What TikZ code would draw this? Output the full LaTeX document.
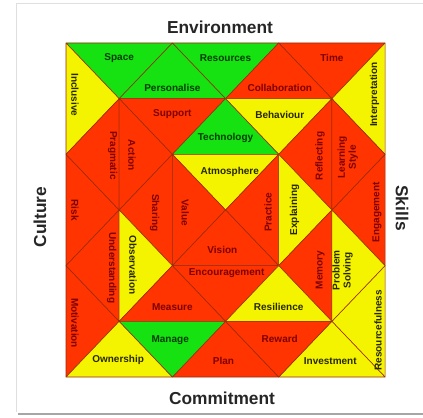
\documentclass[tikz,border=0pt]{standalone}
\usepackage{fontspec}
\setmainfont{Liberation Sans}
\definecolor{tgreen}{RGB}{22,226,18}
\definecolor{tred}{RGB}{255,52,0}
\definecolor{tyellow}{RGB}{244,244,0}
\definecolor{tedge}{RGB}{150,42,12}
\definecolor{rtext}{RGB}{125,0,0}
\definecolor{gtext}{RGB}{0,60,0}
\definecolor{ytext}{RGB}{40,40,0}
\begin{document}
\begin{tikzpicture}[x=0.75pt, y=-0.75pt,
        gtri/.style={fill=tgreen, draw=tedge, line width=0.4pt, line join=round},
        rtri/.style={fill=tred, draw=tedge, line width=0.4pt, line join=round},
        ytri/.style={fill=tyellow, draw=tedge, line width=0.4pt, line join=round},
        lbl/.style={font=\bfseries\fontsize{7.5}{8.2}\selectfont, inner sep=0pt, align=center},
        rlbl/.style={lbl, text=rtext},
        glbl/.style={lbl, text=gtext},
        ylbl/.style={lbl, text=ytext},
        heading/.style={font=\bfseries\fontsize{13}{15}\selectfont, text=black!85}]

                \useasboundingbox (0, 0) rectangle (423, 417);

                % frame of the screenshot
                \draw[gray!25] (423, 3) -- (16, 3) -- (16, 412);

                \draw[gray!70, line width=1.5pt] (18, 414) -- (423, 414);

                \begin{scope}[shift={(49.5pt, -32.25pt)}, x=39.88pt, y=-41.75pt]

                % edge triangles
                \filldraw[gtri] (0, 0) -- (2, 0) -- (1, 1) -- cycle;

                \filldraw[gtri] (2, 0) -- (4, 0) -- (3, 1) -- cycle;

                \filldraw[rtri] (4, 0) -- (6, 0) -- (5, 1) -- cycle;

                \filldraw[ytri] (0, 0) -- (1, 1) -- (0, 2) -- cycle;

                \filldraw[rtri] (0, 2) -- (1, 3) -- (0, 4) -- cycle;

                \filldraw[rtri] (0, 4) -- (1, 5) -- (0, 6) -- cycle;

                \filldraw[ytri] (6, 0) -- (5, 1) -- (6, 2) -- cycle;

                \filldraw[rtri] (6, 2) -- (5, 3) -- (6, 4) -- cycle;

                \filldraw[ytri] (6, 4) -- (5, 5) -- (6, 6) -- cycle;

                \filldraw[ytri] (0, 6) -- (1, 5) -- (2, 6) -- cycle;

                \filldraw[rtri] (2, 6) -- (3, 5) -- (4, 6) -- cycle;

                \filldraw[ytri] (4, 6) -- (5, 5) -- (6, 6) -- cycle;

                % split diamonds
                \filldraw[gtri] (1, 1) -- (2, 0) -- (3, 1) -- cycle;

                \filldraw[rtri] (1, 1) -- (3, 1) -- (2, 2) -- cycle;

                \filldraw[rtri] (3, 1) -- (4, 0) -- (5, 1) -- cycle;

                \filldraw[ytri] (3, 1) -- (5, 1) -- (4, 2) -- cycle;

                \filldraw[rtri] (1, 1) -- (0, 2) -- (1, 3) -- cycle;

                \filldraw[rtri] (1, 1) -- (2, 2) -- (1, 3) -- cycle;

                \filldraw[gtri] (2, 2) -- (3, 1) -- (4, 2) -- cycle;

                \filldraw[ytri] (2, 2) -- (4, 2) -- (3, 3) -- cycle;

                \filldraw[rtri] (5, 1) -- (4, 2) -- (5, 3) -- cycle;

                \filldraw[rtri] (5, 1) -- (6, 2) -- (5, 3) -- cycle;

                \filldraw[rtri] (2, 2) -- (1, 3) -- (2, 4) -- cycle;

                \filldraw[rtri] (2, 2) -- (3, 3) -- (2, 4) -- cycle;

                \filldraw[rtri] (4, 2) -- (3, 3) -- (4, 4) -- cycle;

                \filldraw[ytri] (4, 2) -- (5, 3) -- (4, 4) -- cycle;

                \filldraw[rtri] (1, 3) -- (0, 4) -- (1, 5) -- cycle;

                \filldraw[ytri] (1, 3) -- (2, 4) -- (1, 5) -- cycle;

                \filldraw[rtri] (2, 4) -- (3, 3) -- (4, 4) -- cycle;

                \filldraw[rtri] (2, 4) -- (4, 4) -- (3, 5) -- cycle;

                \filldraw[rtri] (5, 3) -- (4, 4) -- (5, 5) -- cycle;

                \filldraw[ytri] (5, 3) -- (6, 4) -- (5, 5) -- cycle;

                \filldraw[rtri] (1, 5) -- (2, 4) -- (3, 5) -- cycle;

                \filldraw[gtri] (1, 5) -- (3, 5) -- (2, 6) -- cycle;

                \filldraw[ytri] (3, 5) -- (4, 4) -- (5, 5) -- cycle;

                \filldraw[rtri] (3, 5) -- (5, 5) -- (4, 6) -- cycle;

                % labels
                \node[glbl] (space) at (1, 0.27) {Space};

                \node[glbl] (resources) at (3, 0.27) {Resources};

                \node[rlbl] (time) at (5, 0.27) {Time};

                \node[ylbl, rotate=-90] (inclusive) at (0.17, 0.93) {Inclusive};

                \node[glbl] (personalise) at (2, 0.8) {Personalise};

                \node[rlbl] (collaboration) at (4.02, 0.8) {Collaboration};

                \node[ylbl, rotate=90] (interpretation) at (5.8, 0.93) {Interpretation};

                \node[rlbl] (support) at (2, 1.28) {Support};

                \node[ylbl] (behaviour) at (4.02, 1.29) {Behaviour};

                \node[glbl] (technology) at (3, 1.7) {Technology};

                \node[ylbl] (atmosphere) at (3.08, 2.32) {Atmosphere};

                \node[rlbl, rotate=-90] (pragmatic) at (0.88, 2.02) {Pragmatic};

                \node[rlbl, rotate=-90] (action) at (1.24, 2.02) {Action};

                \node[rlbl, rotate=90] (reflecting) at (4.78, 2.03) {Reflecting};

                \node[rlbl, rotate=90] (learning) at (5.3, 2.05) {Learning\\Style};

                \node[rlbl, rotate=-90] (risk) at (0.17, 3) {Risk};

                \node[rlbl, rotate=-90] (sharing) at (1.67, 3.05) {Sharing};

                \node[rlbl, rotate=-90] (value) at (2.24, 3.05) {Value};

                \node[rlbl, rotate=90] (practice) at (3.8, 3.04) {Practice};

                \node[ylbl, rotate=90] (explaining) at (4.3, 3) {Explaining};

                \node[rlbl, rotate=90] (engagement) at (5.85, 3.04) {Engagement};

                \node[rlbl] (vision) at (2.94, 3.72) {Vision};

                \node[rlbl, rotate=-90] (understanding) at (0.86, 4.04) {Understanding};

                \node[ylbl, rotate=-90] (observation) at (1.26, 3.99) {Observation};

                \node[rlbl] (encouragement) at (3.02, 4.14) {Encouragement};

                \node[rlbl, rotate=90] (memory) at (4.78, 4.08) {Memory};

                \node[ylbl, rotate=90] (problem) at (5.2, 4.08) {Problem\\Solving};

                \node[rlbl, rotate=-90] (motivation) at (0.17, 5.03) {Motivation};

                \node[rlbl] (measure) at (2, 4.74) {Measure};

                \node[ylbl] (resilience) at (4, 4.74) {Resilience};

                \node[ylbl, rotate=90] (resourcefulness) at (5.87, 5.16) {Resourcefulness};

                \node[glbl] (manage) at (1.96, 5.33) {Manage};

                \node[rlbl] (reward) at (4.02, 5.32) {Reward};

                \node[ylbl] (ownership) at (0.98, 5.69) {Ownership};

                \node[rlbl] (plan) at (2.96, 5.71) {Plan};

                \node[ylbl] (investment) at (4.97, 5.71) {Investment};

                \end{scope}

                % headings round the square
                \node[heading] (environment) at (220, 27) {Environment};

                \node[heading] (commitment) at (222, 398) {Commitment};

                \node[heading, rotate=90] (culture) at (40, 217) {Culture};

                \node[heading, rotate=-90] (skills) at (402, 208) {Skills};
            \end{tikzpicture}
\end{document}
